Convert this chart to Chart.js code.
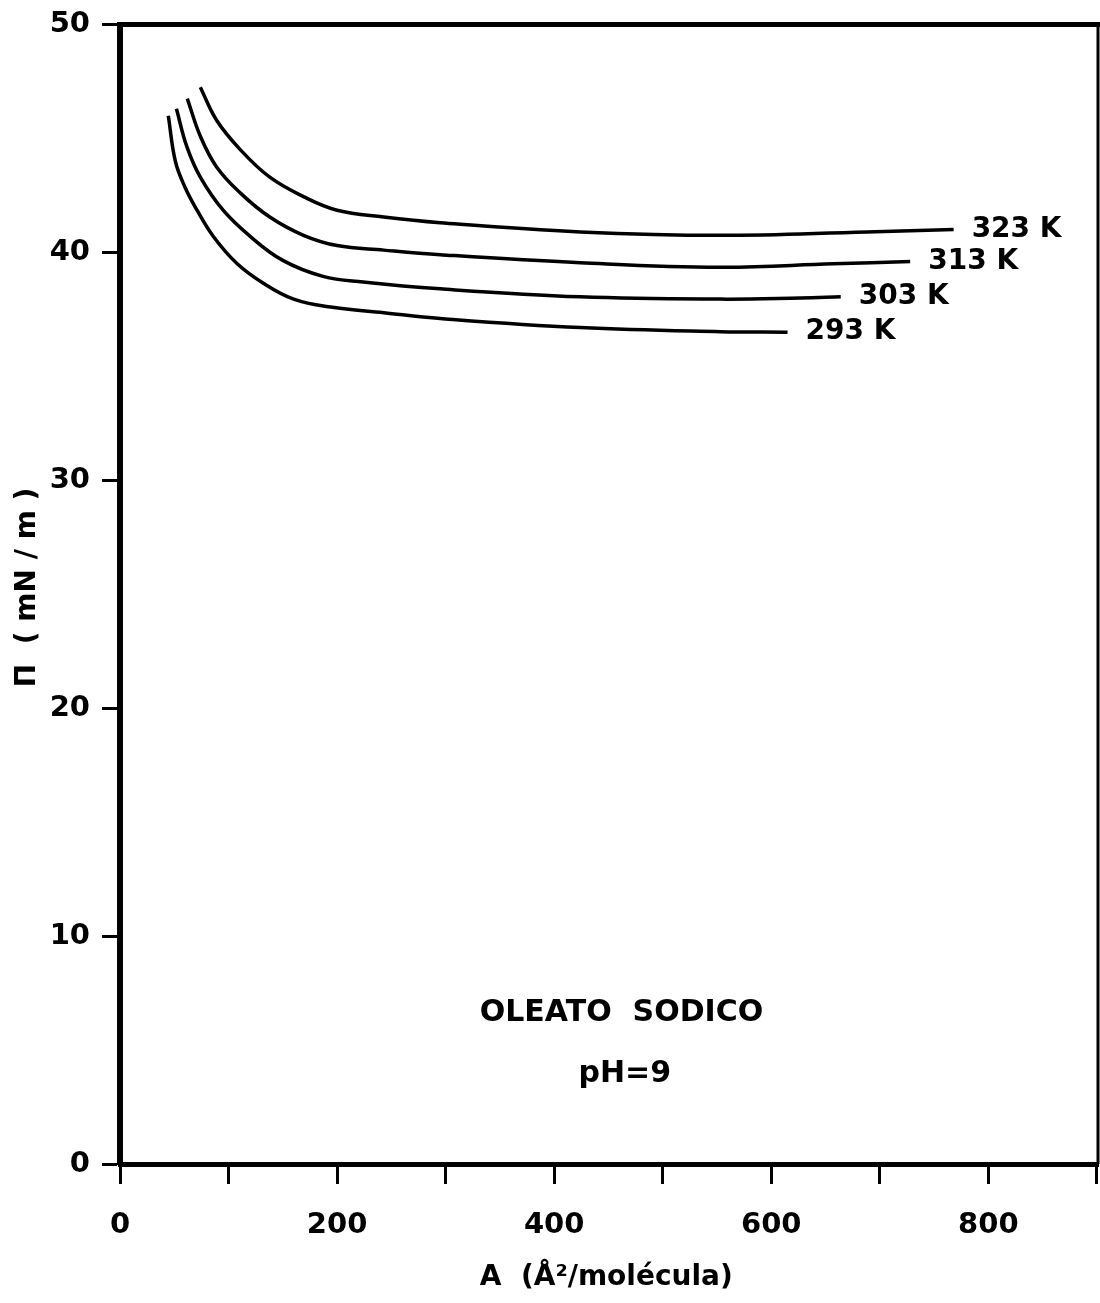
<!DOCTYPE html>
<html>
<head>
<meta charset="utf-8">
<script src="https://cdn.jsdelivr.net/npm/chart.js@4.4.1/dist/chart.umd.min.js"></script>
<style>
  html, body { margin: 0; padding: 0; background: #fff; }
  canvas { display: block; }
</style>
</head>
<body>
<canvas id="isotherms" width="1100" height="1303"></canvas>
<script>
// Surface pressure isotherms of sodium oleate at pH 9, one series per temperature
const seriesNames = ['293 K', '303 K', '313 K', '323 K'];

const area293 = [44.5, 51, 60, 71, 86, 108, 132, 160, 194, 243, 295, 424, 553, 615];
const pi293   = [46.0, 44.0, 42.85, 41.85, 40.7, 39.5, 38.65, 37.95, 37.6, 37.35, 37.1, 36.7, 36.52, 36.5];

const area303 = [52, 61.5, 74, 95, 120, 150, 187, 224, 295, 424, 553, 627, 664];
const pi303   = [46.3, 44.65, 43.3, 41.85, 40.7, 39.65, 38.95, 38.7, 38.4, 38.05, 37.95, 38.0, 38.05];

const area313 = [62, 74, 89, 111, 138, 169, 200, 243, 295, 424, 553, 657, 728];
const pi313   = [46.75, 45.1, 43.75, 42.6, 41.55, 40.75, 40.3, 40.1, 39.9, 39.55, 39.35, 39.5, 39.6];

const area323 = [74, 89, 111, 138, 169, 200, 243, 295, 424, 553, 688, 768];
const pi323   = [47.25, 45.8, 44.5, 43.3, 42.45, 41.85, 41.55, 41.3, 40.9, 40.75, 40.9, 41.0];

const xTickValues = [0, 100, 200, 300, 400, 500, 600, 700, 800, 900];
const xTickLabels = ['0', '', '200', '', '400', '', '600', '', '800', ''];
const yTickValues = [0, 10, 20, 30, 40, 50];
const yTickLabels = ['0', '10', '20', '30', '40', '50'];

const xAxisTitle = 'A  (Å²/molécula)';
const yAxisTitle = 'Π  ( mN / m )';
const noteLines = ['OLEATO  SODICO', 'pH=9'];

const FONT = '"DejaVu Sans", sans-serif';

const areas = [area293, area303, area313, area323];
const pressures = [pi293, pi303, pi313, pi323];

const datasets = seriesNames.map((name, i) => ({
  label: name,
  data: areas[i].map((a, k) => ({ x: a, y: pressures[i][k] })),
  borderColor: '#000',
  borderWidth: 3.5,
  pointRadius: 0,
  fill: false,
  tension: 0.4
}));

// Frame edges, curve labels, axis titles and the caption
const decorations = {
  id: 'decorations',
  afterDraw(chart) {
    const { ctx, chartArea: a, scales: { x, y } } = chart;
    ctx.save();
    ctx.strokeStyle = '#000';
    ctx.fillStyle = '#000';

    ctx.lineWidth = 5;
    ctx.beginPath();
    ctx.moveTo(a.left - 3, a.top);
    ctx.lineTo(a.right + 3, a.top);
    ctx.stroke();

    ctx.lineWidth = 3;
    ctx.beginPath();
    ctx.moveTo(a.right, a.top);
    ctx.lineTo(a.right, a.bottom);
    ctx.stroke();

    // temperature label at the end of each curve
    ctx.font = 'bold 28px ' + FONT;
    ctx.textAlign = 'left';
    ctx.textBaseline = 'middle';
    chart.data.datasets.forEach((ds, i) => {
      const pts = chart.getDatasetMeta(i).data;
      const last = pts[pts.length - 1];
      ctx.fillText(ds.label, last.x + 18, last.y);
    });

    // caption inside the plot
    ctx.textAlign = 'center';
    ctx.font = 'bold 30px ' + FONT;
    ctx.fillText(noteLines[0], x.getPixelForValue(462), y.getPixelForValue(6.6));
    ctx.fillText(noteLines[1], x.getPixelForValue(465), y.getPixelForValue(3.95));

    // axis titles
    ctx.font = 'bold 28px ' + FONT;
    ctx.fillText(xAxisTitle, x.getPixelForValue(448), a.bottom + 114);

    ctx.translate(28, y.getPixelForValue(25.3));
    ctx.rotate(-Math.PI / 2);
    ctx.fillText(yAxisTitle, 0, 0);
    ctx.restore();
  }
};

Chart.defaults.font.family = FONT;
Chart.defaults.color = '#000';

new Chart(document.getElementById('isotherms'), {
  type: 'line',
  data: { datasets },
  plugins: [decorations],
  options: {
    responsive: false,
    animation: false,
    devicePixelRatio: 1,
    layout: { padding: { left: 0, right: 2, top: 24.5, bottom: 0 } },
    plugins: { legend: { display: false }, tooltip: { enabled: false } },
    scales: {
      x: {
        type: 'linear',
        min: 0,
        max: 901,
        afterFit(scale) {
          scale.height = 139;
          scale.paddingLeft = 0;
          scale.paddingRight = 0;
        },
        afterBuildTicks(scale) { scale.ticks = xTickValues.map(v => ({ value: v })); },
        border: { display: true, width: 5, color: '#000' },
        grid: { display: true, drawOnChartArea: false, drawTicks: true, tickLength: 20, tickWidth: 3, tickColor: '#000' },
        ticks: {
          autoSkip: false,
          maxRotation: 0,
          padding: 24,
          font: { size: 29, weight: 'bold' },
          callback: (v) => xTickLabels[xTickValues.indexOf(v)]
        }
      },
      y: {
        type: 'linear',
        min: 0,
        max: 50,
        afterFit(scale) {
          scale.width = 120;
          scale.paddingTop = 0;
          scale.paddingBottom = 0;
        },
        afterBuildTicks(scale) { scale.ticks = yTickValues.map(v => ({ value: v })); },
        border: { display: true, width: 6, color: '#000' },
        grid: { display: true, drawOnChartArea: false, drawTicks: true, tickLength: 18, tickWidth: 3, tickColor: '#000' },
        ticks: {
          autoSkip: false,
          padding: 12,
          font: { size: 29, weight: 'bold' },
          callback: (v) => yTickLabels[yTickValues.indexOf(v)]
        }
      }
    }
  }
});
</script>
</body>
</html>
